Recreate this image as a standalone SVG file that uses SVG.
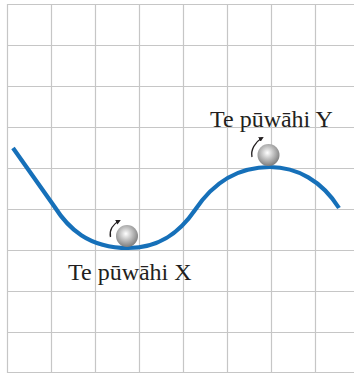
<svg xmlns="http://www.w3.org/2000/svg" width="354" height="374" viewBox="0 0 354 374">
<style>
.grid line{stroke:#c6c6c6;stroke-width:1.2}
.curve{fill:none;stroke:#1670b9;stroke-width:4.2;stroke-linecap:butt}
.arr{fill:none;stroke:#231f20;stroke-width:1.3}
.lbl{font-family:"Liberation Serif","Times New Roman",serif;font-size:24px;fill:#231f20}
</style>
<defs>
<radialGradient id="ballg" cx="0.45" cy="0.4" r="0.6">
<stop offset="0" stop-color="#ffffff"/>
<stop offset="0.45" stop-color="#c4c4c4"/>
<stop offset="1" stop-color="#7e7e7e"/>
</radialGradient>
<marker id="ah" viewBox="0 0 10 10" refX="6" refY="5" markerWidth="5" markerHeight="5" orient="auto" markerUnits="userSpaceOnUse">
<path d="M0,0 L10,5 L0,10 z" fill="#231f20"/>
</marker>
</defs>
<rect width="354" height="374" fill="#ffffff"/>
<g id="grid" class="grid">
<line x1="7.5" y1="4" x2="7.5" y2="373"/>
<line x1="51.5" y1="4" x2="51.5" y2="373"/>
<line x1="95.5" y1="4" x2="95.5" y2="373"/>
<line x1="139.5" y1="4" x2="139.5" y2="373"/>
<line x1="183.5" y1="4" x2="183.5" y2="373"/>
<line x1="227.5" y1="4" x2="227.5" y2="373"/>
<line x1="271.5" y1="4" x2="271.5" y2="373"/>
<line x1="315.5" y1="4" x2="315.5" y2="373"/>
<line x1="7" y1="4.5" x2="354" y2="4.5"/>
<line x1="7" y1="45.5" x2="354" y2="45.5"/>
<line x1="7" y1="86.5" x2="354" y2="86.5"/>
<line x1="7" y1="127.5" x2="354" y2="127.5"/>
<line x1="7" y1="168.5" x2="354" y2="168.5"/>
<line x1="7" y1="209.5" x2="354" y2="209.5"/>
<line x1="7" y1="250.5" x2="354" y2="250.5"/>
<line x1="7" y1="291.5" x2="354" y2="291.5"/>
<line x1="7" y1="332.5" x2="354" y2="332.5"/>
<line x1="7" y1="372.5" x2="354" y2="372.5"/>
</g>
<g id="track">
<path class="curve" d="M13,148 L54,206 C68,228 88,248 128,248 C160,248 180,232 195,210 C215,180 240,167 270,167 C297,167 322,181 339,208"/>
</g>
<g id="pointX">
<circle cx="127" cy="236" r="11" fill="url(#ballg)"/>
<path class="arr" d="M110.5,237 C109,230 113,224 119,221" marker-end="url(#ah)"/>
<text class="lbl" x="68" y="280">Te pūwāhi X</text>
</g>
<g id="pointY">
<circle cx="268.5" cy="155" r="11" fill="url(#ballg)"/>
<path class="arr" d="M252,157 C250.5,150 255,142 262,138" marker-end="url(#ah)"/>
<text class="lbl" x="210" y="126.5">Te pūwāhi Y</text>
</g>
</svg>
